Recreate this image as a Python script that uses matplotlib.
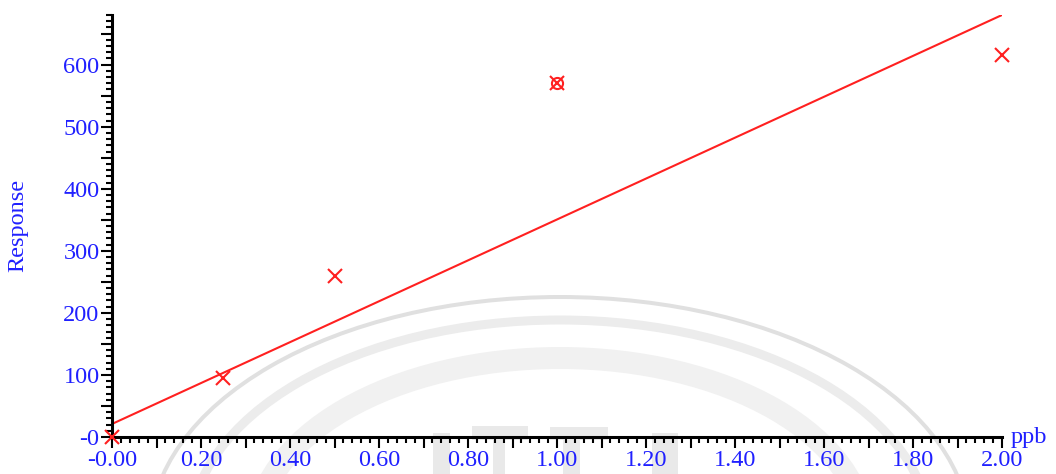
import numpy as np
import matplotlib
matplotlib.use('Agg')
import matplotlib.pyplot as plt
from matplotlib.patches import Arc, Rectangle
from matplotlib.ticker import MultipleLocator, FuncFormatter

# calibration points (ppb vs response)
conc = [0.0, 0.25, 0.5, 1.0, 2.0]
response = [0, 95, 259, 571, 616]
# point highlighted with a circle
flag_conc = [1.0]
flag_response = [571]
# fitted line
fit_slope = 329.5
fit_intercept = 21.0

BLUE = '#2020ff'
RED = '#ff2020'
FONT = 'Liberation Serif'
FS = 17.5

plt.rcParams['font.family'] = FONT

fig = plt.figure(figsize=(10.56, 4.74), dpi=100)

# faint watermark in pixel coordinates behind everything
bg = fig.add_axes([0, 0, 1, 1], zorder=-1)
bg.set_xlim(0, 1056)
bg.set_ylim(0, 474)
bg.axis('off')
px = 72 / 100
for semi_h, lw_px, col in [(237, 4, '#e0e0e0'), (214, 9, '#ececec'),
                           (176, 22, '#f1f1f1')]:
    bg.add_patch(Arc((560, -60), 2 * semi_h * 1.73, 2 * semi_h,
                     theta1=0, theta2=180, lw=lw_px * px, color=col))
for (x0, y0, w, h) in [(433, 0, 17, 41), (472, 34, 56, 14), (493, 0, 12, 34),
                       (563, 0, 17, 41), (550, 34, 58, 13), (652, 0, 26, 41)]:
    bg.add_patch(Rectangle((x0, y0), w, h, color='#e9e9e9', lw=0))

ax = fig.add_axes([112 / 1056, 37 / 474, 890 / 1056, 422 / 474])
ax.patch.set_alpha(0)

xs = np.array([0.0, 2.0])
ax.plot(xs, fit_intercept + fit_slope * xs, color=RED, lw=1.5, zorder=2)
ax.plot(conc, response, 'x', color=RED, ms=10, mew=1.5, clip_on=False, zorder=3)
ax.plot(flag_conc, flag_response, 'o', mfc='none', mec=RED, ms=8, mew=1.5, zorder=3)

ax.set_xlim(0, 2.0)
ax.set_ylim(0, 680)

for s in ['top', 'right']:
    ax.spines[s].set_visible(False)
for s in ['left', 'bottom']:
    ax.spines[s].set_linewidth(2.2)
    ax.spines[s].set_color('black')

ax.xaxis.set_major_locator(MultipleLocator(0.1))
ax.xaxis.set_minor_locator(MultipleLocator(0.02))
ax.yaxis.set_major_locator(MultipleLocator(50))
ax.yaxis.set_minor_locator(MultipleLocator(10))


def xfmt(v, pos):
    n = int(round(v * 10))
    if n % 2:
        return ''
    return '-0.00' if n == 0 else f'{v:.2f}'


def yfmt(v, pos):
    n = int(round(v))
    if n % 100:
        return ''
    return '-0' if n == 0 else str(n)


ax.xaxis.set_major_formatter(FuncFormatter(xfmt))
ax.yaxis.set_major_formatter(FuncFormatter(yfmt))
ax.tick_params(which='major', length=8, width=1.5, direction='out',
               labelsize=FS, labelcolor=BLUE, pad=1)
ax.tick_params(which='minor', length=4, width=1.5, direction='out')

ax.text(1.01, 0.0, 'ppb', transform=ax.transAxes, color=BLUE,
        fontsize=FS, ha='left', va='center')
fig.text(18 / 1056, 1 - 225 / 474, 'Response', rotation=90, color=BLUE,
         fontsize=FS, ha='center', va='center')

fig.savefig('out.png', dpi=100)
